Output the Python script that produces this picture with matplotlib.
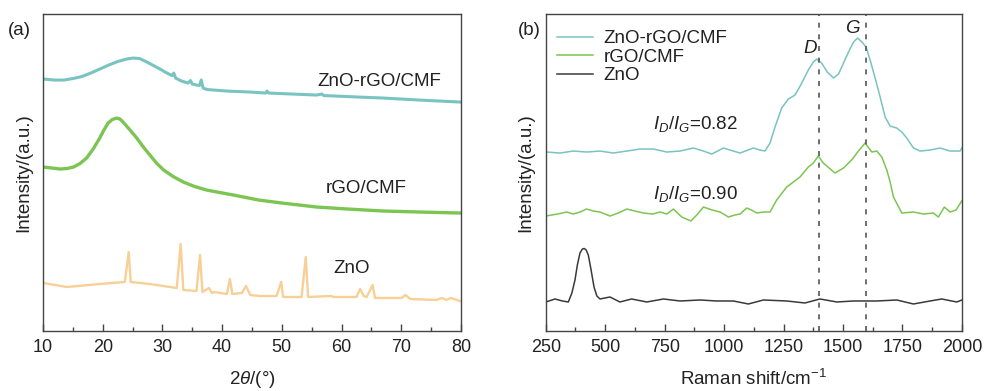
import matplotlib
matplotlib.use('Agg')
import matplotlib.pyplot as plt
from matplotlib.ticker import MultipleLocator

plt.rcParams['font.family'] = ['Liberation Sans', 'DejaVu Sans']
plt.rcParams['mathtext.fontset'] = 'custom'
plt.rcParams['mathtext.rm'] = 'Liberation Sans'
plt.rcParams['mathtext.it'] = 'Liberation Sans:italic'

# ---------------------------------------------------------------
#   Data (intensity in arbitrary units)
# ---------------------------------------------------------------
# (a) XRD
xrd_zrc_x = [10.05, 12.0, 13.5, 15.0, 16.5, 18.0, 19.5, 21.0, 22.5, 24.0, 25.1, 26.2,
             27.4, 28.5, 29.6, 30.6, 31.6, 31.9, 32.2, 33.2, 34.3, 34.7, 35.0, 35.7,
             36.2, 36.5, 36.8, 37.5, 40.8, 44.7, 47.3, 47.5, 47.8, 55.8, 56.7, 57.0,
             62.8, 67.0, 73.0, 79.8]
xrd_zrc_y = [252, 251, 251, 252.5, 254.5, 258, 262, 266, 269.5, 272, 273, 272.5,
             269, 265.5, 262, 258.5, 255.5, 258, 253, 250, 248, 250.5, 247, 246,
             245.5, 251, 243, 241.5, 240, 239, 238, 240, 238, 236, 237, 235.5,
             234, 233, 231, 229]

xrd_rc_x = [10.05, 11.5, 12.85, 14.0, 15.1, 16.2, 17.3, 18.4, 19.5, 20.2, 20.9, 21.6,
            22.3, 22.9, 23.4, 24.5, 25.7, 26.8, 27.9, 29.0, 30.2, 31.8, 33.5, 35.4,
            37.4, 39.6, 41.9, 44.0, 46.1, 50.0, 55.8, 61.0, 67.0, 73.0, 79.8]
xrd_rc_y = [164, 163, 162, 162.5, 164, 167.5, 173, 182, 193, 201, 208, 211.5,
            213, 212, 209, 201.5, 193, 184, 176, 168, 161, 154.5, 149, 144.5,
            141, 138.5, 136, 133.5, 131, 128, 124, 122, 120, 119, 118]

xrd_zno_x = [10.05, 14.0, 19.5, 23.7, 24.35, 24.7, 27.9, 32.4, 33.05, 33.5, 35.7, 36.3,
             36.7, 37.8, 38.3, 38.6, 40.8, 41.3, 41.7, 43.3, 44.0, 44.7, 46.3, 49.1,
             49.9, 50.2, 53.3, 54.0, 54.4, 58.3, 58.6, 62.5, 63.1, 63.7, 64.2, 65.2,
             65.6, 70.1, 70.7, 71.5, 75.9, 76.8, 77.6, 78.3, 79.8]
xrd_zno_y = [48, 44, 47, 49, 79, 49, 47, 43, 87, 41, 40, 76,
             39, 43, 38, 39, 37, 52, 37, 38, 45, 36, 35, 35,
             49, 34, 34, 74, 34, 35, 34, 34, 42, 35, 34, 46,
             33, 33, 36, 32, 31, 33, 31, 33, 30]

# (b) Raman
ram_zrc_x = [254, 310, 366, 422, 478, 534, 591, 647, 703, 759, 815, 871, 913, 948, 997,
             1039, 1067, 1123, 1151, 1172, 1193, 1214, 1242, 1270, 1298, 1322, 1354,
             1375, 1389, 1410, 1434, 1460, 1481, 1502, 1523, 1544, 1561, 1580, 1597,
             1614, 1635, 1656, 1677, 1698, 1726, 1747, 1768, 1796, 1824, 1866, 1908,
             1950, 1992, 2000]
ram_zrc_y = [179, 178, 180, 179, 180, 178, 180, 182, 182, 179, 180, 183, 180, 177, 183,
             180, 178, 183, 181, 180, 188, 204, 223, 232, 236, 246, 261,
             269, 272, 268, 259, 253, 257, 268, 279, 289, 293, 289, 284,
             271, 253, 234, 214, 205, 203, 199, 193, 183, 180, 181, 183,
             180, 180, 183]

ram_rc_x = [250, 300, 338, 366, 394, 422, 450, 478, 520, 555, 591, 625, 661, 700, 731,
            759, 787, 822, 860, 885, 913, 950, 983, 1018, 1045, 1067, 1095, 1115, 1137,
            1165, 1193, 1221, 1263, 1319, 1354, 1375, 1396, 1417, 1466, 1502, 1540, 1558,
            1593, 1621, 1642, 1663, 1684, 1698, 1712, 1747, 1796, 1838, 1880, 1901, 1926,
            1950, 1975, 1999]
ram_rc_y = [115, 117, 119, 117, 119, 122, 120, 119, 115, 118, 122, 120, 118, 117, 119,
            117, 122, 114, 110, 116, 124, 121, 119, 114, 116, 117, 123, 121, 118,
            119, 119, 131, 144, 154, 164, 168, 175, 168, 158, 163, 172, 178,
            188, 179, 180, 174, 161, 149, 134, 118, 119, 117, 118, 114, 124,
            119, 121, 130]

ram_zno_x = [250, 289, 320, 345, 360, 373, 383, 394, 404, 412, 420, 429, 440, 453, 465,
             478, 520, 562, 611, 675, 745, 815, 899, 969, 1039, 1102, 1165, 1263, 1340,
             1403, 1474, 1544, 1642, 1726, 1796, 1866, 1915, 1978, 2000]
ram_zno_y = [29, 32, 30, 29, 38, 51, 66, 78, 82, 82.5, 81, 76, 62, 44, 35,
             32, 34, 29, 32, 29, 32, 30, 31, 30, 30, 27, 31, 30, 28,
             32, 29, 30, 30, 31, 27, 30, 32, 29, 31]

d_band = 1400
g_band = 1598

c_zrc = '#79c3c1'
c_rc = '#7cc552'
c_zno = '#f8d095'
c_blk = '#3a3a3a'
c_txt = '#222222'
fs = 13.5


def style_axes(ax):
    for s in ax.spines.values():
        s.set_color('#444444')
        s.set_linewidth(1.0)
    ax.set_yticks([])
    ax.tick_params(axis='x', which='major', direction='in', length=5, width=1,
                   colors='#444444', labelcolor=c_txt, labelsize=13, pad=6)
    ax.tick_params(axis='x', which='minor', direction='in', length=3, width=1,
                   colors='#444444')
    ax.set_ylim(0, 317)


def main():
    fig = plt.figure(figsize=(9.84, 3.91), dpi=100)
    ax1 = fig.add_axes([0.0437, 0.1535, 0.4248, 0.8105])
    ax2 = fig.add_axes([0.5546, 0.1535, 0.4230, 0.8105])

    # (a) XRD
    ax1.plot(xrd_zrc_x, xrd_zrc_y, color=c_zrc, lw=2.2)
    ax1.plot(xrd_rc_x, xrd_rc_y, color=c_rc, lw=2.4)
    ax1.plot(xrd_zno_x, xrd_zno_y, color=c_zno, lw=1.7)
    ax1.set_xlim(10, 80)
    ax1.xaxis.set_major_locator(MultipleLocator(10))
    ax1.xaxis.set_minor_locator(MultipleLocator(5))
    style_axes(ax1)
    ax1.text(66.4, 250, 'ZnO-rGO/CMF', ha='center', va='center', fontsize=fs, color=c_txt)
    ax1.text(64.1, 143, 'rGO/CMF', ha='center', va='center', fontsize=fs, color=c_txt)
    ax1.text(61.6, 63, 'ZnO', ha='center', va='center', fontsize=fs, color=c_txt)
    ax1.set_xlabel(r'2$\theta$/(°)', fontsize=fs, color=c_txt, labelpad=9)
    ax1.set_ylabel('Intensity/(a.u.)', fontsize=fs, color=c_txt, labelpad=8)

    # (b) Raman
    ax2.plot(ram_zrc_x, ram_zrc_y, color=c_zrc, lw=1.1, label='ZnO-rGO/CMF')
    ax2.plot(ram_rc_x, ram_rc_y, color=c_rc, lw=1.1, label='rGO/CMF')
    ax2.plot(ram_zno_x, ram_zno_y, color=c_blk, lw=1.1, label='ZnO')
    ax2.axvline(d_band, color='#555555', lw=1.2, ls=(0, (3, 4)))
    ax2.axvline(g_band, color='#555555', lw=1.2, ls=(0, (3, 4)))
    ax2.set_xlim(250, 2000)
    ax2.xaxis.set_major_locator(MultipleLocator(250))
    ax2.xaxis.set_minor_locator(MultipleLocator(125))
    style_axes(ax2)
    ax2.text(1360, 283, 'D', style='italic', ha='center', va='center', fontsize=fs, color=c_txt)
    ax2.text(1540, 303, 'G', style='italic', ha='center', va='center', fontsize=fs, color=c_txt)
    ax2.text(878, 207, r'$I_D$/$I_G$=0.82', ha='center', va='center', fontsize=fs, color=c_txt)
    ax2.text(878, 137, r'$I_D$/$I_G$=0.90', ha='center', va='center', fontsize=fs, color=c_txt)
    ax2.legend(loc='upper left', frameon=False, fontsize=fs, handlelength=1.9,
               handletextpad=0.6, labelspacing=0.08, borderaxespad=0.2,
               labelcolor=c_txt, bbox_to_anchor=(0.0, 0.985))
    ax2.set_xlabel('Raman shift/cm$^{-1}$', fontsize=fs, color=c_txt, labelpad=9)
    ax2.set_ylabel('Intensity/(a.u.)', fontsize=fs, color=c_txt, labelpad=8)

    fig.text(0.008, 0.923, '(a)', fontsize=fs, color=c_txt, va='center')
    fig.text(0.526, 0.923, '(b)', fontsize=fs, color=c_txt, va='center')

    fig.savefig('out.png', dpi=100)


if __name__ == '__main__':
    plt.close('all')
    main()
